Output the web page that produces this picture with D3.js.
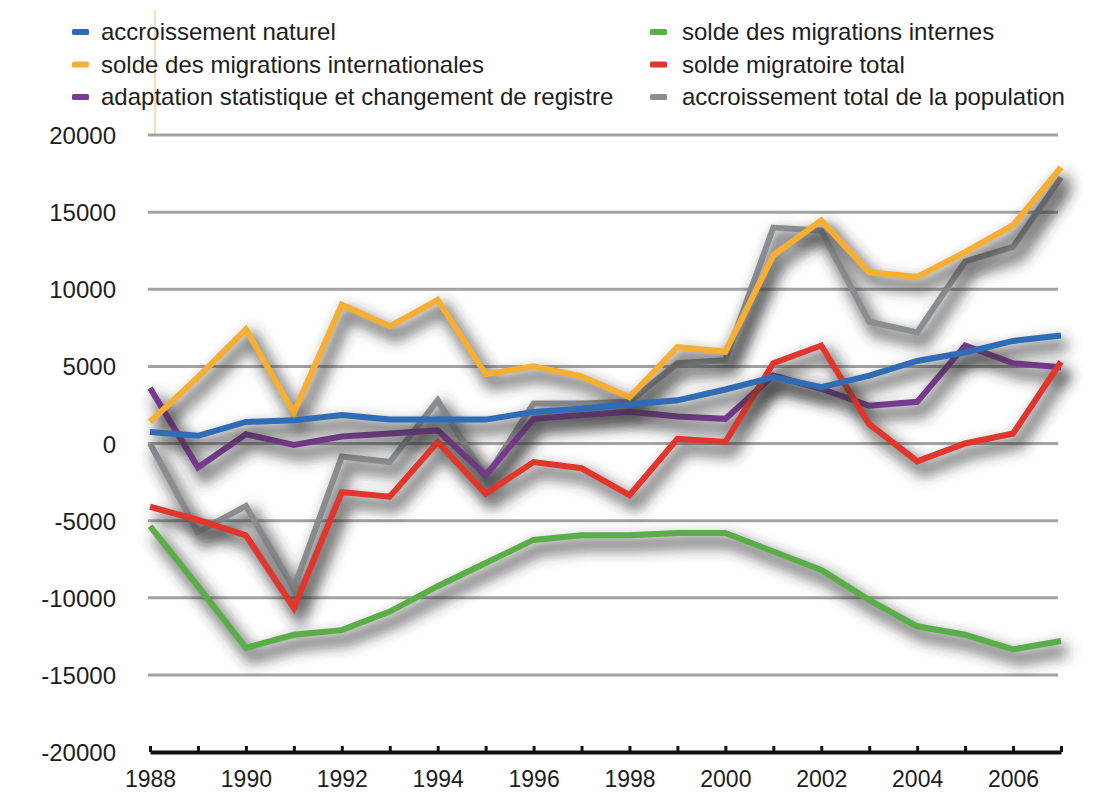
<!DOCTYPE html>
<html>
<head>
<meta charset="utf-8">
<script src="https://cdn.jsdelivr.net/npm/d3@7"></script>
<style>
  html, body { margin: 0; padding: 0; background: #ffffff; }
  svg { display: block; }
  text { font-family: "Liberation Sans", Arial, Helvetica, sans-serif; fill: #1d1d1d; }
</style>
</head>
<body>
<svg id="chart" width="1093" height="794"></svg>
<script>
// Composantes de l'accroissement de la population, 1988-2007
const years = d3.range(1988, 2008);

const accroissementNaturel = [750, 500, 1400, 1500, 1850, 1550, 1550, 1550, 2050, 2250,
  2550, 2800, 3500, 4300, 3650, 4400, 5350, 5900, 6650, 7000];
const migrationsInternationales = [1400, 4300, 7400, 2000, 9000, 7600, 9300, 4500, 5000, 4350,
  3000, 6250, 5950, 12200, 14450, 11100, 10800, 12400, 14150, 17900];
const migrationsInternes = [-5350, -9250, -13250, -12400, -12100, -10900, -9250, -7750, -6250, -5950,
  -5950, -5800, -5800, -7000, -8200, -10150, -11850, -12400, -13350, -12800];
const soldeMigratoireTotal = [-4100, -4950, -5950, -10650, -3150, -3450, 100, -3250, -1200, -1600,
  -3350, 300, 100, 5200, 6350, 1250, -1150, 0, 650, 5300];
const adaptationStatistique = [3600, -1550, 600, -100, 450, 650, 850, -2050, 1600, 1850,
  2050, 1750, 1600, 4400, 3550, 2450, 2700, 6350, 5200, 4950];
const accroissementTotal = [0, -5750, -4050, -9400, -850, -1200, 2800, -2250, 2600, 2600,
  2700, 5200, 5400, 14000, 13800, 7900, 7200, 11800, 12750, 17250];

const yTicks = [-20000, -15000, -10000, -5000, 0, 5000, 10000, 15000, 20000];
const xLabelYears = [1988, 1990, 1992, 1994, 1996, 1998, 2000, 2002, 2004, 2006];

// Séries dans l'ordre de tracé (la dernière passe au-dessus)
const series = [
  { name: "accroissement total de la population", values: accroissementTotal, color: "#8b8e90" },
  { name: "adaptation statistique et changement de registre", values: adaptationStatistique, color: "#773a8e" },
  { name: "solde migratoire total", values: soldeMigratoireTotal, color: "#e2352b" },
  { name: "solde des migrations internes", values: migrationsInternes, color: "#5aae47" },
  { name: "solde des migrations internationales", values: migrationsInternationales, color: "#f6ae33" },
  { name: "accroissement naturel", values: accroissementNaturel, color: "#2e6db6" }
];

// Légende sur deux colonnes
const legendLeft = ["accroissement naturel", "solde des migrations internationales",
  "adaptation statistique et changement de registre"];
const legendRight = ["solde des migrations internes", "solde migratoire total",
  "accroissement total de la population"];

const svg = d3.select("#chart");
const x = d3.scaleLinear().domain([1988, 2007]).range([150, 1061]);
const y = d3.scaleLinear().domain([-20000, 20000]).range([752, 135]);

// Flou pour l'ombre portée des courbes
const defs = svg.append("defs");
defs.append("filter").attr("id", "flou")
  .attr("filterUnits", "userSpaceOnUse")
  .attr("x", 0).attr("y", 0).attr("width", 1093).attr("height", 794)
  .append("feGaussianBlur").attr("stdDeviation", 7);

// Fin trait orangé au-dessus de l'axe
svg.append("line").attr("x1", 155).attr("x2", 155).attr("y1", 10).attr("y2", y(20000))
  .attr("stroke", "#f3c58a").attr("stroke-width", 1.2);

// Quadrillage horizontal
svg.append("g").selectAll("line").data(yTicks.filter(d => d > -20000)).join("line")
  .attr("x1", 148).attr("x2", 1058)
  .attr("y1", d => y(d)).attr("y2", d => y(d))
  .attr("stroke", "#a3a3a3").attr("stroke-width", 3);

// Étiquettes de l'axe vertical
svg.append("g").selectAll("text").data(yTicks).join("text")
  .attr("x", 116).attr("y", d => y(d)).attr("dy", "0.38em")
  .attr("text-anchor", "end").attr("font-size", 24)
  .text(d => d);

// Axe horizontal avec graduations vers le haut
const xAxis = d3.axisBottom(x)
  .tickValues(years)
  .tickSizeInner(-6).tickSizeOuter(0).tickPadding(19)
  .tickFormat(d => xLabelYears.includes(d) ? String(d) : "");
const gx = svg.append("g").attr("transform", `translate(0,${y(-20000)})`).call(xAxis);
gx.select(".domain").attr("stroke", "#111").attr("stroke-width", 4);
gx.selectAll(".tick line").attr("stroke", "#111").attr("stroke-width", 3);
gx.selectAll(".tick text").attr("font-size", 23).attr("fill", "#1d1d1d")
  .attr("font-family", "Liberation Sans, Arial, sans-serif");
gx.attr("font-family", null);

// Courbes, chacune précédée de son ombre
const line = d3.line().x((d, i) => x(years[i])).y(d => y(d));
const lines = svg.append("g").selectAll("g").data(series).join("g");
lines.append("path")
  .attr("d", d => line(d.values))
  .attr("transform", "translate(6,9)")
  .attr("fill", "none")
  .attr("stroke", "#333333")
  .attr("stroke-opacity", 0.65)
  .attr("stroke-width", 13)
  .attr("filter", "url(#flou)");
lines.append("path")
  .attr("d", d => line(d.values))
  .attr("fill", "none")
  .attr("stroke", d => d.color)
  .attr("stroke-width", 6)
  .attr("stroke-linejoin", "miter");

// Légende
const colorOf = name => series.find(s => s.name === name).color;
function drawLegend(names, mx, tx) {
  const g = svg.append("g");
  const rows = g.selectAll("g").data(names).join("g")
    .attr("transform", (d, i) => `translate(0,${32 + i * 32.5})`);
  rows.append("rect").attr("x", mx).attr("y", -3).attr("width", 17).attr("height", 6)
    .attr("rx", 1.5).attr("fill", d => colorOf(d));
  rows.append("text").attr("x", tx).attr("y", 0).attr("dy", "0.35em")
    .attr("font-size", 24).text(d => d);
}
drawLegend(legendLeft, 72, 101);
drawLegend(legendRight, 650, 682);
</script>
</body>
</html>
